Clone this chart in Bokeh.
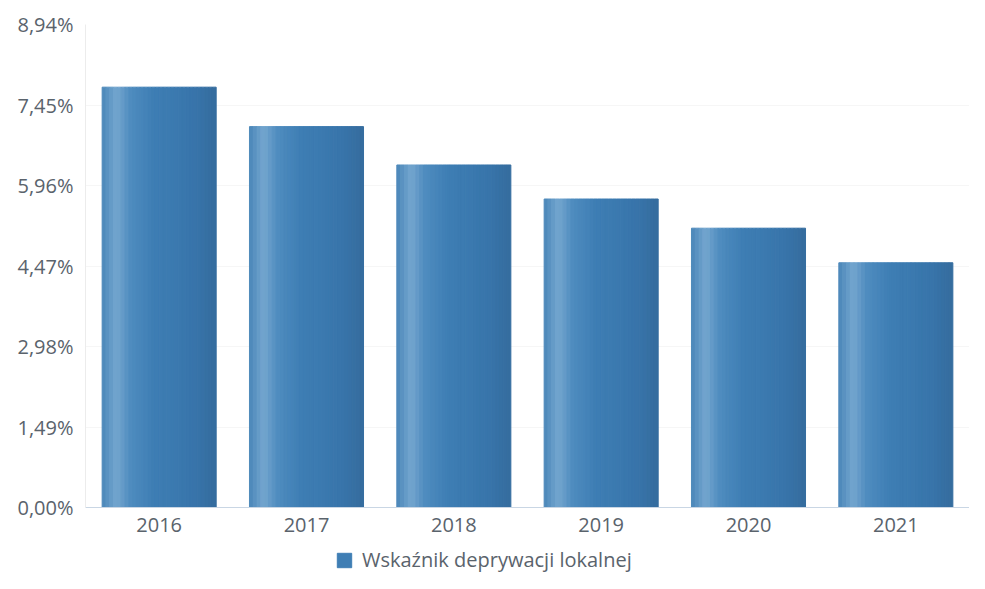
from bokeh.plotting import figure
from bokeh.layouts import column
from bokeh.models import (ColumnDataSource, FixedTicker, CustomJSTickFormatter,
                          Legend, LegendItem, Range1d)
from bokeh.transform import dodge
from bokeh.embed import file_html
from bokeh.resources import INLINE

# ---- data ----
years = ["2016", "2017", "2018", "2019", "2020", "2021"]
values = [7.78, 7.05, 6.34, 5.71, 5.17, 4.53]
y_ticks = [0.0, 1.49, 2.98, 4.47, 5.96, 7.45, 8.94]
series_name = "Wskaźnik deprywacji lokalnej"

src = ColumnDataSource(dict(year=years, value=values))

FONT = "Open Sans"
TXT = "#5a636c"

p = figure(x_range=years, y_range=(0, y_ticks[-1]), width=969, height=545,
           output_backend="svg", toolbar_location=None,
           min_border_left=85, min_border_right=0, min_border_top=24,
           min_border_bottom=38)
p.outline_line_color = None
p.background_fill_color = "white"
p.border_fill_color = "white"

# bar shading (style): key colour stops across the bar width
stops = [(0.00, (0x4a, 0x86, 0xb8)), (0.13, (0x74, 0xa6, 0xcf)),
         (0.25, (0x4f, 0x8c, 0xbf)), (0.45, (0x3e, 0x7e, 0xb4)),
         (0.80, (0x38, 0x75, 0xab)), (1.00, (0x35, 0x6c, 0x9e))]


def shade(t):
    for (t0, c0), (t1, c1) in zip(stops[:-1], stops[1:]):
        if t0 <= t <= t1:
            f = (t - t0) / (t1 - t0)
            return "#%02x%02x%02x" % tuple(int(round(a + (b - a) * f)) for a, b in zip(c0, c1))
    return "#%02x%02x%02x" % stops[-1][1]


bar_w = 0.774
n = 30
sw = bar_w / n
for i in range(n):
    off = -bar_w / 2 + (i + 0.5) * sw
    c = shade((i + 0.5) / n)
    p.vbar(x=dodge("year", off, range=p.x_range), top="value", width=sw,
           source=src, fill_color=c, line_color=c, line_width=1)

# axes
p.yaxis.ticker = FixedTicker(ticks=y_ticks)
p.yaxis.formatter = CustomJSTickFormatter(code="return tick.toFixed(2).replace('.', ',') + '%';")
for ax in (p.xaxis, p.yaxis):
    ax.major_label_text_font = FONT
    ax.major_label_text_font_size = "20px"
    ax.major_label_text_color = TXT
    ax.major_tick_line_color = None
    ax.minor_tick_line_color = None
    ax.major_tick_out = 0
    ax.major_tick_in = 0
p.yaxis.major_label_standoff = 12
p.xaxis.major_label_standoff = 10
p.yaxis.axis_line_color = "#ececec"
p.xaxis.axis_line_color = "#c9d6e4"
p.xgrid.grid_line_color = None
p.ygrid.grid_line_color = "#f6f6f6"
p.x_range.range_padding = 0

# legend strip (separate small figure); the swatch renderer sits outside its view
lg = figure(width=969, height=28, output_backend="svg", toolbar_location=None,
            x_axis_type=None, y_axis_type=None,
            x_range=Range1d(0, 1), y_range=Range1d(0, 1),
            min_border=0, min_border_left=0, min_border_right=0,
            min_border_top=0, min_border_bottom=0)
lg.outline_line_color = None
lg.border_fill_color = "white"
swatch = lg.vbar(x=[-5], top=[-5], width=1, fill_color="#3f7eb4", line_color="#3f7eb4")
legend = Legend(items=[LegendItem(label=series_name, renderers=[swatch])],
                location=(250, 0), orientation="horizontal")
legend.label_text_font = FONT
legend.label_text_font_size = "20px"
legend.label_text_color = TXT
legend.glyph_width = 18
legend.glyph_height = 18
legend.label_standoff = 9
legend.padding = 0
legend.margin = 0
legend.spacing = 0
legend.border_line_color = None
legend.background_fill_alpha = 0
lg.add_layout(legend, "center")

page = column(p, lg, spacing=0)
open("out.html", "w").write(file_html(page, INLINE))
